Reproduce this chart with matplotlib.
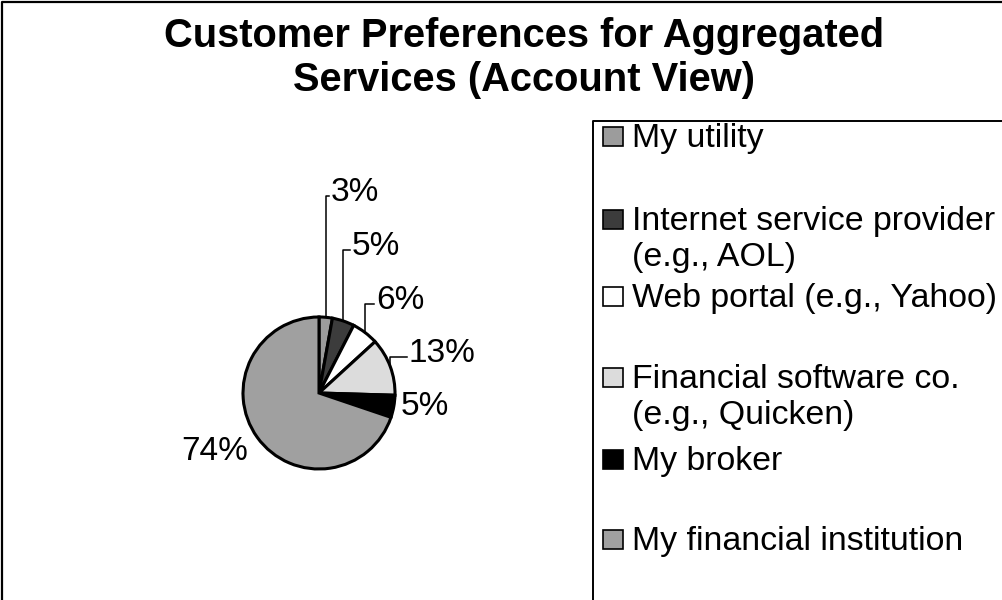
import numpy as np
import matplotlib.pyplot as plt
from matplotlib.patches import Rectangle

plt.rcParams['font.family'] = ['Liberation Sans', 'DejaVu Sans']

# data
categories = ['My utility',
              'Internet service provider\n(e.g., AOL)',
              'Web portal (e.g., Yahoo)',
              'Financial software co.\n(e.g., Quicken)',
              'My broker',
              'My financial institution']
shares = [3, 5, 6, 13, 5, 74]
pct_labels = ['3%', '5%', '6%', '13%', '5%', '74%']
colors = ['#9c9c9c', '#3c3c3c', '#ffffff', '#dcdcdc', '#000000', '#a0a0a0']

title_lines = ['Customer Preferences for Aggregated', 'Services (Account View)']

# layout (pixel coords, y measured from top)
W, H = 1003, 600
pie_cx, pie_cy, pie_r = 319, 393, 76
lab_pos = [(331, 201), (352, 255), (376, 309), (409, 362), (401, 415), (248, 460)]
leader = [True, True, True, True, False, False]
lab_ha = ['left', 'left', 'left', 'left', 'left', 'right']
leg_base = [147, 230, 307, 388, 470, 550]
leg_line = 36

fig = plt.figure(figsize=(W / 100, H / 100), dpi=100)
ax = fig.add_axes([0, 0, 1, 1])


def Y(y):
    return H - y


wedges, _ = ax.pie(shares, colors=colors, startangle=90, counterclock=False,
                   center=(pie_cx, Y(pie_cy)), radius=pie_r,
                   wedgeprops=dict(edgecolor='black', linewidth=2.2))
ax.set_xlim(0, W)
ax.set_ylim(0, H)
ax.set_aspect('auto')
ax.axis('off')

# percentage labels with Excel-style leader lines
for w, lab, (lx, ly), lead, ha in zip(wedges, pct_labels, lab_pos, leader, lab_ha):
    mid = np.deg2rad((w.theta1 + w.theta2) / 2)
    ex = pie_cx + pie_r * np.cos(mid)
    ey = Y(pie_cy) + pie_r * np.sin(mid)
    if lead:
        ty = Y(ly) + 5
        ax.plot([ex, ex, lx - 2], [ey, ty, ty], color='black', lw=1.1)
    ax.text(lx, Y(ly), lab, ha=ha, va='baseline', fontsize=24)

# title
for i, line in enumerate(title_lines):
    ax.text(524, Y(47 + i * 44), line, ha='center', va='baseline',
            fontsize=28.7, fontweight='bold')

# legend box
ax.plot([593, 593, W], [0, Y(121), Y(121)], color='black', lw=1.4)
for lab, col, base in zip(categories, colors, leg_base):
    ax.add_patch(Rectangle((603, Y(base) + 1), 20, 19, facecolor=col,
                           edgecolor='black', lw=1.2))
    for j, line in enumerate(lab.split('\n')):
        ax.text(632, Y(base + j * leg_line), line, ha='left', va='baseline',
                fontsize=24.4)

# outer frame
ax.plot([2, 2, W], [0, Y(2), Y(2)], color='black', lw=1.6)

fig.savefig('out.png', dpi=100)
